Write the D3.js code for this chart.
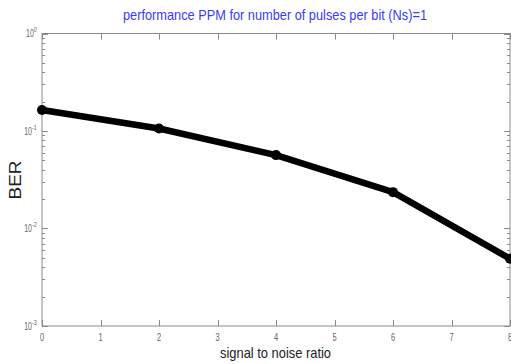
<!DOCTYPE html>
<html>
<head>
<meta charset="utf-8">
<script src="https://cdn.jsdelivr.net/npm/d3@7"></script>
<style>
  html, body { margin: 0; padding: 0; background: #fff; }
  svg { display: block; }
  text { font-family: "Liberation Sans", Arial, sans-serif; }
</style>
</head>
<body>
<svg id="chart" width="511" height="364"></svg>
<script>
// SNR values (x) and bit error rate (y) for PPM with Ns = 1
const snr = [0, 2, 4, 6, 8];
const ber = [0.164, 0.106, 0.0566, 0.0236, 0.0049];
const xTicks = [0, 1, 2, 3, 4, 5, 6, 7, 8];
const yExponents = [0, -1, -2, -3];

const title = "performance PPM for number of pulses per bit (Ns)=1";
const xLabel = "signal to noise ratio";
const yLabel = "BER";

const svg = d3.select("#chart");
const plotLeft = 42, plotRight = 510, plotTop = 33.5, plotBottom = 326;

const x = d3.scaleLinear().domain([0, 8]).range([plotLeft, plotRight]);
const y = d3.scaleLog().domain([1e-3, 1]).range([plotBottom, plotTop]);

const axisColor = "#8a8a8a";

// frame
svg.append("rect")
  .attr("x", plotLeft).attr("y", plotTop)
  .attr("width", plotRight - plotLeft).attr("height", plotBottom - plotTop)
  .attr("fill", "none").attr("stroke", axisColor).attr("stroke-width", 1);

// x ticks, inward on bottom and top
const g = svg.append("g").attr("stroke", axisColor).attr("stroke-width", 1);
xTicks.forEach(t => {
  const px = Math.round(x(t)) + 0.5;
  g.append("line").attr("x1", px).attr("x2", px).attr("y1", plotBottom).attr("y2", plotBottom - 6);
  g.append("line").attr("x1", px).attr("x2", px).attr("y1", plotTop).attr("y2", plotTop + 6);
});

// y ticks: major at decades, minor at 2..9 per decade, inward on left and right
const minor = [];
for (let e = -3; e < 0; e++) {
  for (let m = 2; m <= 9; m++) minor.push(m * Math.pow(10, e));
}
yExponents.forEach(e => {
  const py = Math.round(y(Math.pow(10, e))) + 0.5;
  g.append("line").attr("x1", plotLeft).attr("x2", plotLeft + 6).attr("y1", py).attr("y2", py);
  g.append("line").attr("x1", plotRight).attr("x2", plotRight - 6).attr("y1", py).attr("y2", py);
});
minor.forEach(v => {
  const py = Math.round(y(v)) + 0.5;
  g.append("line").attr("x1", plotLeft).attr("x2", plotLeft + 3).attr("y1", py).attr("y2", py);
  g.append("line").attr("x1", plotRight).attr("x2", plotRight - 3).attr("y1", py).attr("y2", py);
});

// x tick labels
xTicks.forEach(t => {
  svg.append("text")
    .attr("x", x(t)).attr("y", plotBottom + 15)
    .attr("text-anchor", "middle")
    .attr("font-size", 11).attr("fill", "#666")
    .attr("transform", `translate(${x(t)},0) scale(0.68,1) translate(${-x(t)},0)`)
    .text(t);
});

// y tick labels as 10^n
yExponents.forEach(e => {
  const py = y(Math.pow(10, e));
  const t = svg.append("text")
    .attr("x", 37).attr("y", py + 4)
    .attr("text-anchor", "end")
    .attr("font-size", 10).attr("fill", "#666")
    .attr("transform", `translate(37,0) scale(0.7,1) translate(-37,0)`);
  t.append("tspan").text("10");
  t.append("tspan").attr("font-size", 8).attr("dy", -5).text(String(e));
});

// BER curve
const line = d3.line().x((d, i) => x(snr[i])).y(d => y(d));
svg.append("path")
  .datum(ber)
  .attr("d", line)
  .attr("fill", "none")
  .attr("stroke", "#000")
  .attr("stroke-width", 6.5)
  .attr("stroke-linejoin", "round");

svg.selectAll("circle.pt")
  .data(ber)
  .enter().append("circle")
  .attr("class", "pt")
  .attr("cx", (d, i) => x(snr[i]))
  .attr("cy", d => y(d))
  .attr("r", 5)
  .attr("fill", "#000");

// title
svg.append("text")
  .attr("x", 123).attr("y", 20)
  .attr("font-size", 15).attr("fill", "#3a3aff")
  .attr("textLength", 304).attr("lengthAdjust", "spacingAndGlyphs")
  .text(title);

// axis labels
svg.append("text")
  .attr("x", 220).attr("y", 358)
  .attr("font-size", 15).attr("fill", "#222")
  .attr("textLength", 111).attr("lengthAdjust", "spacingAndGlyphs")
  .text(xLabel);

svg.append("text")
  .attr("transform", "translate(21,180) rotate(-90)")
  .attr("text-anchor", "middle")
  .attr("font-size", 16).attr("fill", "#222")
  .attr("textLength", 39).attr("lengthAdjust", "spacingAndGlyphs")
  .text(yLabel);
</script>
</body>
</html>
